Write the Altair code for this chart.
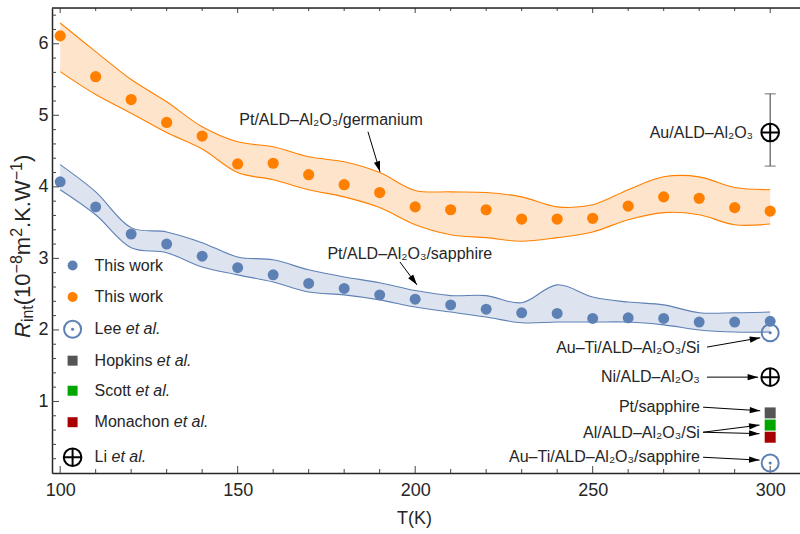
import math
import altair as alt
import pandas as pd

# ---------------- data ----------------
T = list(range(100, 301, 10))
blue_R = [4.07, 3.72, 3.34, 3.20, 3.03, 2.87, 2.77, 2.65, 2.58, 2.49, 2.43,
          2.35, 2.29, 2.24, 2.23, 2.16, 2.17, 2.16, 2.11, 2.11, 2.12]
blue_hi = [4.31, 3.93, 3.43, 3.37, 3.22, 3.02, 2.98, 2.84, 2.74, 2.66, 2.55,
           2.48, 2.48, 2.38, 2.63, 2.46, 2.39, 2.35, 2.24, 2.24, 2.25]
blue_lo = [3.96, 3.61, 3.15, 3.08, 2.88, 2.77, 2.67, 2.53, 2.49, 2.42, 2.32,
           2.25, 2.18, 2.10, 2.11, 2.11, 2.11, 2.07, 2.00, 1.97, 1.97]
orange_R = [6.11, 5.54, 5.22, 4.90, 4.71, 4.32, 4.33, 4.17, 4.03, 3.92, 3.72,
            3.68, 3.68, 3.55, 3.55, 3.56, 3.73, 3.86, 3.84, 3.71, 3.66]
orange_hi = [6.29, 5.89, 5.50, 5.19, 4.84, 4.63, 4.56, 4.42, 4.35, 4.20, 3.95,
             3.93, 3.92, 3.86, 3.72, 3.75, 3.96, 4.14, 4.14, 3.99, 3.96]
orange_lo = [5.61, 5.29, 5.03, 4.76, 4.53, 4.20, 4.10, 3.96, 3.86, 3.71, 3.47,
             3.33, 3.29, 3.24, 3.29, 3.37, 3.54, 3.64, 3.61, 3.47, 3.48]

lit_T = 300
lee_R = [1.96, 0.14]
li_R = [1.34, 4.76]
li_err = [4.29, 5.30]
hopkins_R = [0.84]
scott_R = [0.67]
monachon_R = [0.50]

ann_center = ["Pt/ALD–Al₂O₃/germanium", "Pt/ALD–Al₂O₃/sapphire"]
ann_center_T = [176.3, 198.5]
ann_center_R = [4.93, 3.06]
ann_right = ["Au/ALD–Al₂O₃", "Au–Ti/ALD–Al₂O₃/Si", "Ni/ALD–Al₂O₃", "Pt/sapphire",
             "Al/ALD–Al₂O₃/Si", "Au–Ti/ALD–Al₂O₃/sapphire"]
ann_right_T = [295.2, 280.2, 280.2, 280.2, 280.2, 280.2]
ann_right_R = [4.75, 1.75, 1.34, 0.92, 0.56, 0.22]

arrow_T0 = [186.7, 195.7, 282.2, 282.2, 281.1, 281.1, 281.1, 281.1]
arrow_R0 = [4.77, 2.95, 1.76, 1.34, 0.92, 0.57, 0.57, 0.22]
arrow_T1 = [190.1, 200.5, 297.2, 296.6, 297.2, 297.0, 297.0, 297.0]
arrow_R1 = [4.21, 2.63, 1.89, 1.34, 0.87, 0.67, 0.55, 0.18]

legend_names = ["This work", "This work", "Lee", "Hopkins", "Scott", "Monachon", "Li"]
legend_italic = ["", "", "et al.", "et al.", "et al.", "et al.", "et al."]
legend_R = [2.90, 2.46, 2.01, 1.57, 1.15, 0.71, 0.22]
legend_marker_T = 103.5
legend_text_T = 109.7

x_major = [100, 150, 200, 250, 300]
x_minor = [t for t in range(110, 300, 10) if t % 50 != 0]
y_major = [1, 2, 3, 4, 5, 6]
y_minor = [round(0.2 * k, 1) for k in range(1, 33) if k % 5 != 0]

# ---------------- style ----------------
BLUE = "#5E81B5"
ORANGE = "#FF8000"
BLUE_FILL = "#DDE4EF"
ORANGE_FILL = "#FFE4CC"
GRAY = "#555555"
GREEN = "#00A600"
RED = "#A80000"
INK = "#262626"
FONT = "Liberation Sans"
INTERP = "catmull-rom"

X_DOMAIN = [97.7, 308.4]
Y_DOMAIN = [0.0, 6.5]
W, H = 748, 465

xs = alt.Scale(domain=X_DOMAIN, nice=False, zero=False)
ys = alt.Scale(domain=Y_DOMAIN, nice=False, zero=False)

x_axis = alt.Axis(values=x_major, ticks=False, grid=False, domainColor=INK, domainWidth=1.5,
                  labelFontSize=18, labelFont=FONT, labelColor=INK, labelPadding=8,
                  labelFlush=False, title="T(K)", titleFont=FONT, titleFontSize=18,
                  titleFontWeight="normal", titleColor=INK, titleX=362, titleY=45,
                  titleBaseline="middle", titleAlign="center")
y_axis = alt.Axis(values=y_major, ticks=False, grid=False, domainColor=INK, domainWidth=1.5,
                  labelFontSize=18, labelFont=FONT, labelColor=INK, labelPadding=4,
                  labelFlush=False, title=None)


def X(f):
    return alt.X(f, type="quantitative", scale=xs, axis=x_axis)


def Y(f):
    return alt.Y(f, type="quantitative", scale=ys, axis=y_axis)


def px(t):
    return (t - X_DOMAIN[0]) / (X_DOMAIN[1] - X_DOMAIN[0]) * W


def py(r):
    return H - (r - Y_DOMAIN[0]) / (Y_DOMAIN[1] - Y_DOMAIN[0]) * H


CW = {'L': 0.556, 'e': 0.556, ' ': 0.278, 'H': 0.722, 'o': 0.556, 'p': 0.556,
      'k': 0.5, 'i': 0.222, 'n': 0.556, 's': 0.5, 'S': 0.667, 'c': 0.5, 't': 0.278,
      'M': 0.833, 'a': 0.556, 'h': 0.556, 'R': 0.722, '(': 0.333, ')': 0.333,
      '1': 0.556, '0': 0.556, '8': 0.556, '2': 0.556, 'm': 0.833, '.': 0.278,
      'K': 0.667, 'W': 0.944, '−': 0.584}


def tw(s, size):
    return sum(CW.get(c, 0.556) for c in s) * size


# ---------------- layers ----------------
df = pd.DataFrame({"T": T, "blue": blue_R, "bhi": blue_hi, "blo": blue_lo,
                   "orange": orange_R, "ohi": orange_hi, "olo": orange_lo})
base = alt.Chart(df)

o_area = base.mark_area(interpolate=INTERP, color=ORANGE_FILL).encode(x=X("T"), y=Y("olo"), y2="ohi")
o_l1 = base.mark_line(interpolate=INTERP, color=ORANGE, strokeWidth=1.1).encode(x=X("T"), y=Y("ohi"))
o_l2 = base.mark_line(interpolate=INTERP, color=ORANGE, strokeWidth=1.1).encode(x=X("T"), y=Y("olo"))
b_area = base.mark_area(interpolate=INTERP, color=BLUE_FILL).encode(x=X("T"), y=Y("blo"), y2="bhi")
b_l1 = base.mark_line(interpolate=INTERP, color=BLUE, strokeWidth=1.1).encode(x=X("T"), y=Y("bhi"))
b_l2 = base.mark_line(interpolate=INTERP, color=BLUE, strokeWidth=1.1).encode(x=X("T"), y=Y("blo"))

o_pts = base.mark_circle(color=ORANGE, size=125, opacity=1).encode(x=X("T"), y=Y("orange"))
b_pts = base.mark_circle(color=BLUE, size=120, opacity=1).encode(x=X("T"), y=Y("blue"))

# ticks (inward)
dxM = pd.DataFrame({"v": x_major})
dxm = pd.DataFrame({"v": x_minor})
dyM = pd.DataFrame({"v": y_major})
dym = pd.DataFrame({"v": y_minor})
tick_style = dict(color="#444444", strokeWidth=1)
ticks = [
    alt.Chart(dxM).mark_rule(**tick_style).encode(x=X("v"), y=alt.value(H), y2=alt.value(H - 7)),
    alt.Chart(dxm).mark_rule(**tick_style).encode(x=X("v"), y=alt.value(H), y2=alt.value(H - 4)),
    alt.Chart(dxM).mark_rule(**tick_style).encode(x=X("v"), y=alt.value(0), y2=alt.value(5)),
    alt.Chart(dxm).mark_rule(**tick_style).encode(x=X("v"), y=alt.value(0), y2=alt.value(3)),
    alt.Chart(dyM).mark_rule(**tick_style).encode(y=Y("v"), x=alt.value(0), x2=alt.value(7)),
    alt.Chart(dym).mark_rule(**tick_style).encode(y=Y("v"), x=alt.value(0), x2=alt.value(4)),
]
top_line = alt.Chart(pd.DataFrame({"a": [0]})).mark_rule(color=INK, strokeWidth=1.5).encode(
    x=alt.value(0), x2=alt.value(W), y=alt.value(0))

# literature markers
PLUS = "M-1,0L1,0M0,-1L0,1"
lee_df = pd.DataFrame({"T": [lit_T] * len(lee_R), "R": lee_R})
li_df = pd.DataFrame({"T": [lit_T] * len(li_R), "R": li_R})
sq_df = pd.DataFrame({"T": [lit_T] * 3, "R": hopkins_R + scott_R + monachon_R,
                      "c": [GRAY, GREEN, RED]})
err_df = pd.DataFrame({"T": [lit_T], "lo": [li_err[0]], "hi": [li_err[1]]})
err_cap = pd.DataFrame({"T": [lit_T, lit_T], "R": li_err})

lit = [
    alt.Chart(err_df).mark_rule(color=GRAY, strokeWidth=1.2).encode(x=X("T"), y=Y("lo"), y2="hi"),
    alt.Chart(err_cap).mark_tick(color=GRAY, orient="horizontal", size=11, thickness=1.2).encode(x=X("T"), y=Y("R")),
    alt.Chart(lee_df).mark_point(shape="circle", filled=False, color=BLUE, size=290, strokeWidth=2, opacity=1).encode(x=X("T"), y=Y("R")),
    alt.Chart(lee_df).mark_point(shape="circle", filled=True, color=BLUE, size=10, opacity=1).encode(x=X("T"), y=Y("R")),
    alt.Chart(li_df).mark_point(shape="circle", filled=True, color="white", size=310, opacity=1).encode(x=X("T"), y=Y("R")),
    alt.Chart(li_df).mark_point(shape="circle", filled=False, color="black", size=310, strokeWidth=2, opacity=1).encode(x=X("T"), y=Y("R")),
    alt.Chart(li_df).mark_point(shape=PLUS, filled=False, color="black", size=310, strokeWidth=2, opacity=1).encode(x=X("T"), y=Y("R")),
    alt.Chart(sq_df).mark_square(size=121, opacity=1).encode(x=X("T"), y=Y("R"), color=alt.Color("c:N", scale=None)),
]

# arrows
angles = []
for t0, r0, t1, r1 in zip(arrow_T0, arrow_R0, arrow_T1, arrow_R1):
    dx = px(t1) - px(t0)
    dy = py(r1) - py(r0)
    angles.append(math.degrees(math.atan2(dx, -dy)) % 360)
arr_df = pd.DataFrame({"t0": arrow_T0, "r0": arrow_R0, "t1": arrow_T1, "r1": arrow_R1, "ang": angles})
HEAD = "M0,0L-0.3,1L0.3,1Z"
arrows = [
    alt.Chart(arr_df).mark_rule(color="black", strokeWidth=1).encode(x=X("t0"), y=Y("r0"), x2="t1", y2="r1"),
    alt.Chart(arr_df).mark_point(shape=HEAD, filled=True, color="black", size=440, opacity=1).encode(
        x=X("t1"), y=Y("r1"), angle=alt.Angle("ang:Q", scale=None)),
]

# annotation texts
ac_df = pd.DataFrame({"label": ann_center, "T": ann_center_T, "R": ann_center_R})
ar_df = pd.DataFrame({"label": ann_right, "T": ann_right_T, "R": ann_right_R})
txt = dict(font=FONT, fontSize=16, color=INK, baseline="middle")
texts = [
    alt.Chart(ac_df).mark_text(align="center", **txt).encode(x=X("T"), y=Y("R"), text="label:N"),
    alt.Chart(ar_df).mark_text(align="right", **txt).encode(x=X("T"), y=Y("R"), text="label:N"),
]

# legend
unit = W / (X_DOMAIN[1] - X_DOMAIN[0])
leg_df = pd.DataFrame({"name": legend_names, "ital": legend_italic, "R": legend_R,
                       "T": [legend_marker_T] * 7, "Tt": [legend_text_T] * 7,
                       "Ti": [legend_text_T + tw(n + " ", 16) / unit for n in legend_names]})
leg_sq = pd.DataFrame({"T": [legend_marker_T] * 3, "R": legend_R[3:6], "c": [GRAY, GREEN, RED]})
legend = [
    alt.Chart(leg_df.iloc[[0]]).mark_circle(color=BLUE, size=100, opacity=1).encode(x=X("T"), y=Y("R")),
    alt.Chart(leg_df.iloc[[1]]).mark_circle(color=ORANGE, size=100, opacity=1).encode(x=X("T"), y=Y("R")),
    alt.Chart(leg_df.iloc[[2]]).mark_point(shape="circle", filled=False, color=BLUE, size=290, strokeWidth=2, opacity=1).encode(x=X("T"), y=Y("R")),
    alt.Chart(leg_df.iloc[[2]]).mark_point(shape="circle", filled=True, color=BLUE, size=10, opacity=1).encode(x=X("T"), y=Y("R")),
    alt.Chart(leg_sq).mark_square(size=100, opacity=1).encode(x=X("T"), y=Y("R"), color=alt.Color("c:N", scale=None)),
    alt.Chart(leg_df.iloc[[6]]).mark_point(shape="circle", filled=False, color="black", size=310, strokeWidth=2, opacity=1).encode(x=X("T"), y=Y("R")),
    alt.Chart(leg_df.iloc[[6]]).mark_point(shape=PLUS, filled=False, color="black", size=310, strokeWidth=2, opacity=1).encode(x=X("T"), y=Y("R")),
    alt.Chart(leg_df).mark_text(align="left", **txt).encode(x=X("Tt"), y=Y("R"), text="name:N"),
    alt.Chart(leg_df).mark_text(align="left", fontStyle="italic", **txt).encode(x=X("Ti"), y=Y("R"), text="ital:N"),
]

# y-axis title built from pieces (rotated)
pieces = [("R", 22, 0, True), ("int", 16, 3, False), ("(10", 22, 0, False), ("−8", 16, -8, False),
          ("m", 22, 0, False), ("2", 16, -8, False), (".K.W", 22, 0, False), ("−1", 16, -8, False),
          (")", 22, 0, False)]
base_x = -22
y_pos = 330.0
rows = []
for s, fs, shift, ital in pieces:
    rows.append({"s": s, "fs": fs, "px": base_x + shift, "py": y_pos, "ital": ital})
    y_pos -= tw(s, fs)
tdf = pd.DataFrame(rows)
title_layers = [
    alt.Chart(tdf[tdf.ital]).mark_text(angle=270, align="left", baseline="alphabetic", font=FONT,
                                       fontStyle="italic", color=INK).encode(
        x=alt.X("px:Q", scale=None, axis=None), y=alt.Y("py:Q", scale=None, axis=None), text="s:N",
        size=alt.Size("fs:Q", scale=None)),
    alt.Chart(tdf[~tdf.ital]).mark_text(angle=270, align="left", baseline="alphabetic", font=FONT,
                                        color=INK).encode(
        x=alt.X("px:Q", scale=None, axis=None), y=alt.Y("py:Q", scale=None, axis=None), text="s:N",
        size=alt.Size("fs:Q", scale=None)),
]

chart = alt.layer(
    o_area, o_l1, o_l2, b_area, b_l1, b_l2, o_pts, b_pts,
    *ticks, top_line, *lit, *arrows, *texts, *legend, *title_layers
).properties(
    width=W, height=H,
    padding={"left": 52, "top": 8, "right": 0, "bottom": 61},
    autosize=alt.AutoSizeParams(type="none"),
).configure_view(stroke=None).configure(background="white")

chart.save("out.html", embed_options={"renderer": "svg", "actions": False})
